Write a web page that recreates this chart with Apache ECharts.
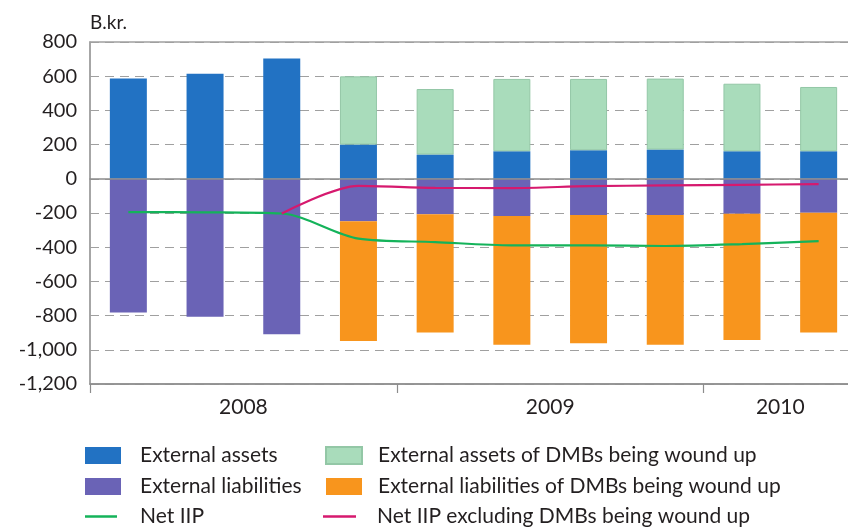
<!DOCTYPE html>
<html>
<head>
<meta charset="utf-8">
<script src="https://cdn.jsdelivr.net/npm/echarts@6/dist/echarts.min.js"></script>
<style>
html,body{margin:0;padding:0;background:#fff;}
#chart{width:848px;height:528px;}
</style>
</head>
<body>
<div id="chart"></div>
<script>
var categories = ['2008 Q1','2008 Q2','2008 Q3','2008 Q4','2009 Q1','2009 Q2','2009 Q3','2009 Q4','2010 Q1','2010 Q2'];
var externalAssets = [586, 615, 704, 200, 142, 161, 167, 171, 161, 161];
var externalAssetsDMB = [null, null, null, 399, 383, 423, 417, 415, 395, 376];
var externalLiabilities = [-782, -806, -909, -248, -208, -218, -212, -212, -205, -199];
var externalLiabilitiesDMB = [null, null, null, -700, -691, -753, -750, -759, -737, -700];
var netIIP = [-195, -196, -203, -350, -370, -389, -389, -393, -382, -364];
var netIIPexDMB = [null, null, -203, -41, -53, -54, -43, -39, -35, -31];
var yearLabels = ['2008', '2009', '2010'];
var yearLabelPos = [2, 6, 9];
var yearTickPos = [0, 4, 8];

var FONT = 'Lato';
var TXT = '#231f20';
var chart = echarts.init(document.getElementById('chart'), null, {renderer: 'canvas'});

function legendBlock(left, top, names, w, h, gap, pad) {
  return {
    orient: 'vertical', left: left, top: top, padding: 0, itemGap: gap,
    itemWidth: w, itemHeight: h, icon: 'rect',
    data: names,
    textStyle: {fontFamily: FONT, fontSize: 21, color: TXT, lineHeight: 17, padding: [0, 0, 0, pad]}
  };
}

var option = {
  animation: false,
  backgroundColor: '#fff',
  textStyle: {fontFamily: FONT},
  title: {
    text: 'B.kr.',
    left: 90,
    top: 13,
    padding: 0,
    textStyle: {fontFamily: FONT, fontSize: 19, fontWeight: 'normal', color: TXT}
  },
  grid: {
    left: 90, right: -9, top: 42, bottom: 144,
    show: true, borderColor: '#a0a0a0', borderWidth: 1.5,
    outerBoundsMode: 'none'
  },
  legend: [
    legendBlock(85, 445, ['External assets', 'External liabilities'], 36, 17, 10, 14),
    legendBlock(325, 445, ['External assets of DMBs being wound up', 'External liabilities of DMBs being wound up'], 36, 17, 10, 11),
    legendBlock(85, 506, ['Net IIP'], 32, 2.5, 10, 18),
    legendBlock(323, 506, ['Net IIP excluding DMBs being wound up'], 33, 2.5, 10, 16)
  ],
  xAxis: [
    {
      type: 'category',
      data: categories,
      position: 'bottom',
      z: 10,
      axisLine: {show: true, onZero: true, lineStyle: {color: '#8c8c8c', width: 1.5}},
      axisTick: {show: false},
      axisLabel: {show: false},
      splitLine: {show: false}
    },
    {
      type: 'value',
      min: 0, max: 10,
      position: 'bottom',
      axisLine: {show: true, onZero: false, lineStyle: {color: '#8c8c8c', width: 1.5}},
      axisTick: {show: true, length: 9, inside: false, customValues: yearTickPos, lineStyle: {color: '#8c8c8c', width: 1.2}},
      axisLabel: {
        show: true, margin: 13, customValues: yearLabelPos,
        fontFamily: FONT, fontSize: 21, color: TXT,
        formatter: function (v) { var i = yearLabelPos.indexOf(v); return i >= 0 ? yearLabels[i] : ''; }
      },
      splitLine: {show: false}
    }
  ],
  yAxis: {
    type: 'value',
    min: -1200, max: 800, interval: 200,
    axisLine: {show: true, lineStyle: {color: '#a0a0a0', width: 1.5}},
    axisTick: {show: false},
    axisLabel: {
      margin: 13, fontFamily: FONT, fontSize: 20, color: TXT,
      formatter: function (v) { return v.toLocaleString('en-US'); }
    },
    splitLine: {show: true, lineStyle: {color: '#a0a0a0', width: 1, type: [9, 6]}}
  },
  series: [
    {
      name: 'External assets', type: 'bar', stack: 'total', barWidth: 37,
      data: externalAssets, itemStyle: {color: '#2272c3'}
    },
    {
      name: 'External assets of DMBs being wound up', type: 'bar', stack: 'total', barWidth: 37,
      data: externalAssetsDMB, itemStyle: {color: '#a9dcbb', borderColor: '#93c7a6', borderWidth: 1}
    },
    {
      name: 'External liabilities', type: 'bar', stack: 'total', barWidth: 37,
      data: externalLiabilities, itemStyle: {color: '#6a63b6'}
    },
    {
      name: 'External liabilities of DMBs being wound up', type: 'bar', stack: 'total', barWidth: 37,
      data: externalLiabilitiesDMB, itemStyle: {color: '#f8951d'}
    },
    {
      name: 'Net IIP', type: 'line', data: netIIP, symbol: 'none', smooth: 0.3, z: 5,
      lineStyle: {color: '#14b35a', width: 2.2}, itemStyle: {color: '#14b35a'}
    },
    {
      name: 'Net IIP excluding DMBs being wound up', type: 'line', data: netIIPexDMB, symbol: 'none', smooth: 0.3, z: 5,
      connectNulls: false,
      lineStyle: {color: '#d6196e', width: 2.2}, itemStyle: {color: '#d6196e'}
    }
  ]
};
chart.setOption(option);
</script>
</body>
</html>
